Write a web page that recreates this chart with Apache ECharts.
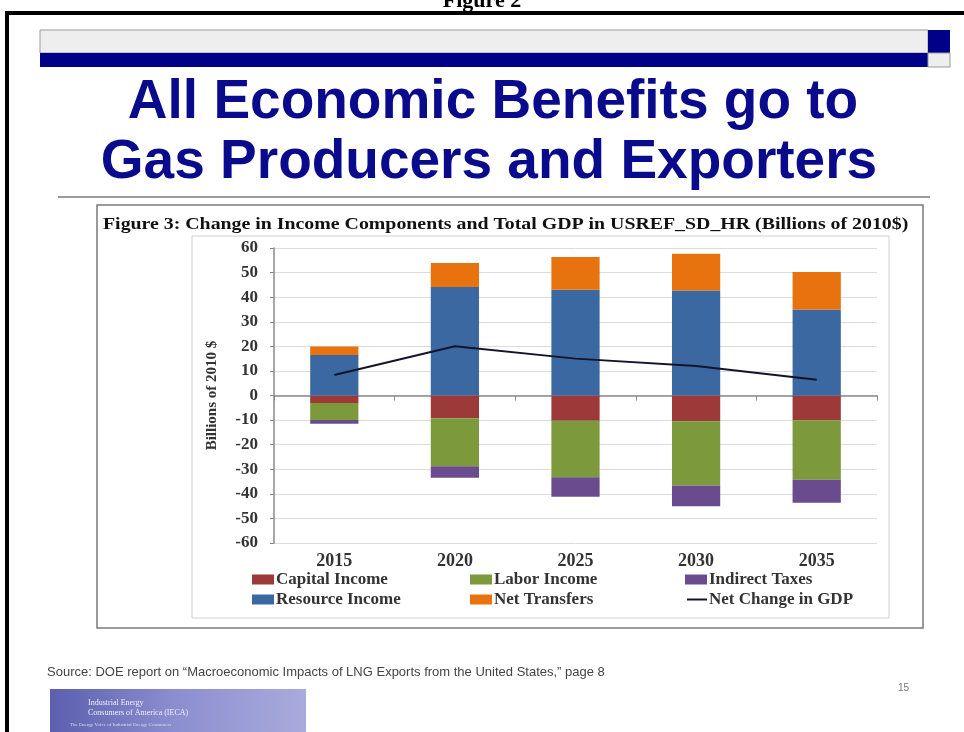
<!DOCTYPE html>
<html>
<head>
<meta charset="utf-8">
<script src="https://cdn.jsdelivr.net/npm/echarts@6/dist/echarts.min.js"></script>
<style>
html,body{margin:0;padding:0;background:#fff;}
#main{width:964px;height:732px;}
</style>
</head>
<body>
<div id="main"></div>
<script>
// ---- data ----
const categories = ['2015', '2020', '2025', '2030', '2035'];
const capitalIncome = [-3.1, -9.3, -10.3, -10.5, -10.1];
const laborIncome = [-6.9, -19.5, -23.0, -26.1, -24.2];
const indirectTaxes = [-1.5, -4.7, -7.9, -8.5, -9.3];
const resourceIncome = [16.5, 44.1, 43.0, 42.7, 35.0];
const netTransfers = [3.4, 9.8, 13.3, 15.0, 15.2];
const netChangeGDP = [8.3, 20.0, 15.0, 12.0, 6.4];
const yMin = -60, yMax = 60, yStep = 10;

const serif = '"Liberation Serif", "Times New Roman", serif';
const navy = '#0a0a8c';

const chart = echarts.init(document.getElementById('main'));

function legendAt(name, left, top, extra) {
  return Object.assign({
    data: [name], left: left, top: top, padding: 0, icon: 'rect', itemWidth: 22, itemHeight: 10, itemGap: 0,
    textStyle: { fontFamily: serif, fontWeight: 'bold', fontSize: 17, color: '#333', padding: [0, 0, 0, -3] }
  }, extra || {});
}

const option = {
  animation: false,
  backgroundColor: '#ffffff',
  graphic: [
    // header "Figure 2" (cropped at the top)
    { type: 'text', left: 'center', top: -10, style: { text: 'Figure 2', font: 'bold 22px ' + serif, fill: '#000' } },
    // black page frame
    { type: 'rect', shape: { x: 5, y: 11, width: 959, height: 4 }, style: { fill: '#000' } },
    { type: 'rect', shape: { x: 5, y: 11, width: 4, height: 721 }, style: { fill: '#000' } },
    // slide header bars
    { type: 'rect', shape: { x: 40, y: 30, width: 888, height: 23 }, style: { fill: '#eeeeee', stroke: '#9a9a9a', lineWidth: 1 } },
    { type: 'rect', shape: { x: 40, y: 53, width: 888, height: 14 }, style: { fill: '#000088' } },
    { type: 'rect', shape: { x: 928, y: 30, width: 22, height: 23 }, style: { fill: '#000088' } },
    { type: 'rect', shape: { x: 928, y: 53, width: 22, height: 14 }, style: { fill: '#eeeeee', stroke: '#9a9a9a', lineWidth: 1 } },
    // slide title
    { type: 'text', x: 493, y: 103, style: { text: 'All Economic Benefits go to', font: 'bold 55px "Liberation Sans", Arial, sans-serif', fill: navy, textAlign: 'center', textVerticalAlign: 'middle' } },
    { type: 'text', x: 489, y: 163, style: { text: 'Gas Producers and Exporters', font: 'bold 55px "Liberation Sans", Arial, sans-serif', fill: navy, textAlign: 'center', textVerticalAlign: 'middle' } },
    { type: 'line', shape: { x1: 58, y1: 197, x2: 930, y2: 197 }, style: { stroke: '#9a9a9a', lineWidth: 2 } },
    // figure frame
    { type: 'rect', shape: { x: 97, y: 205, width: 826, height: 423 }, style: { fill: 'none', stroke: '#7a7a7a', lineWidth: 1.5 } },
    { type: 'rect', shape: { x: 192, y: 236, width: 697, height: 382 }, style: { fill: 'none', stroke: '#cfcfcf', lineWidth: 1 } },
    { type: 'text', x: 103, y: 225, scaleX: 1.24, style: { x: 0, y: 0, text: 'Figure 3: Change in Income Components and Total GDP in USREF_SD_HR (Billions of 2010$)', font: 'bold 16px ' + serif, fill: '#111', textVerticalAlign: 'middle' } },
    // footer
    { type: 'text', x: 47, y: 672, style: { text: 'Source: DOE report on \u201cMacroeconomic Impacts of LNG Exports from the United States,\u201d page 8', font: '13px "Liberation Sans", sans-serif', fill: '#444', textVerticalAlign: 'middle' } },
    { type: 'text', x: 898, y: 688, style: { text: '15', font: '10px "Liberation Sans", sans-serif', fill: '#777', textVerticalAlign: 'middle' } },
    { type: 'rect', shape: { x: 50, y: 689, width: 256, height: 43 }, style: {
        fill: new echarts.graphic.LinearGradient(0, 0, 1, 0, [{ offset: 0, color: '#5b5fae' }, { offset: 0.5, color: '#8c8fcf' }, { offset: 1, color: '#a9abdc' }]) } },
    { type: 'text', x: 88, y: 699, style: { text: 'Industrial Energy', font: '8px ' + serif, fill: '#eef' } },
    { type: 'text', x: 88, y: 709, style: { text: 'Consumers of America (IECA)', font: '8px ' + serif, fill: '#eef' } },
    { type: 'text', x: 70, y: 722, style: { text: 'The Energy Voice of Industrial Energy Consumers', font: '5px ' + serif, fill: '#dde' } }
  ],
  grid: { left: 274, right: 87, top: 248, bottom: 189, containLabel: false },
  legend: [
    legendAt('Capital Income', 252, 571),
    legendAt('Labor Income', 470, 571),
    legendAt('Indirect Taxes', 685, 571),
    legendAt('Resource Income', 252, 591),
    legendAt('Net Transfers', 470, 591),
    legendAt('Net Change in GDP', 687, 591, { itemWidth: 20, itemHeight: 2, icon: 'rect' })
  ],
  xAxis: [
    {
      type: 'category', data: categories, position: 'bottom',
      axisLine: { onZero: true, lineStyle: { color: '#8a8a8a', width: 1.5 } },
      axisTick: { show: true, length: 5, lineStyle: { color: '#8a8a8a' } },
      axisLabel: { show: false }
    },
    {
      type: 'category', data: categories, position: 'bottom',
      axisLine: { show: false }, axisTick: { show: false },
      axisLabel: { margin: 9, fontFamily: serif, fontWeight: 'bold', fontSize: 18, color: '#333' }
    }
  ],
  yAxis: {
    type: 'value', min: yMin, max: yMax, interval: yStep,
    name: 'Billions of 2010 $', nameLocation: 'middle', nameGap: 54,
    nameTextStyle: { fontFamily: serif, fontWeight: 'bold', fontSize: 15, color: '#333' },
    axisLine: { show: true, lineStyle: { color: '#8a8a8a', width: 1.5 } },
    axisTick: { show: true, length: 4, lineStyle: { color: '#8a8a8a' } },
    axisLabel: { margin: 16, fontFamily: serif, fontWeight: 'bold', fontSize: 17, color: '#333' },
    splitLine: { show: true, lineStyle: { color: '#dcdcdc', width: 1 } }
  },
  series: [
    { name: 'Capital Income', type: 'bar', stack: 'total', barWidth: '40%', data: capitalIncome, itemStyle: { color: '#9b3a38' } },
    { name: 'Labor Income', type: 'bar', stack: 'total', data: laborIncome, itemStyle: { color: '#7c9a3b' } },
    { name: 'Indirect Taxes', type: 'bar', stack: 'total', data: indirectTaxes, itemStyle: { color: '#6a4b8e' } },
    { name: 'Resource Income', type: 'bar', stack: 'total', data: resourceIncome, itemStyle: { color: '#3b68a1' } },
    { name: 'Net Transfers', type: 'bar', stack: 'total', data: netTransfers, itemStyle: { color: '#e8730e' } },
    { name: 'Net Change in GDP', type: 'line', data: netChangeGDP, symbol: 'none', z: 5,
      lineStyle: { color: '#141428', width: 2 }, itemStyle: { color: '#141428' } }
  ]
};
chart.setOption(option);
</script>
</body>
</html>
